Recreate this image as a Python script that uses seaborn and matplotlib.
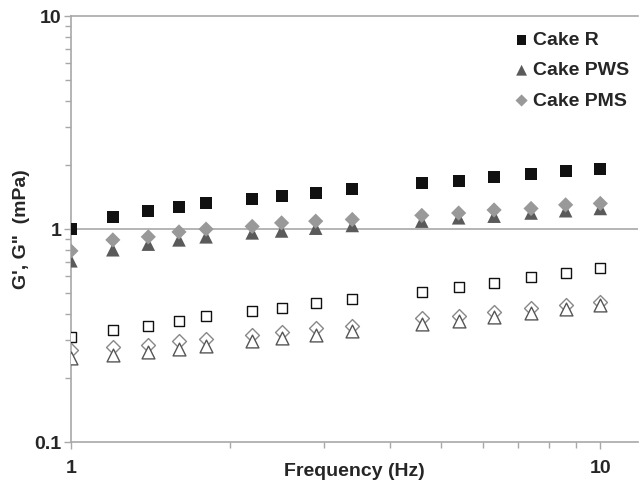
import numpy as np
import pandas as pd
import matplotlib
matplotlib.use("Agg")
import matplotlib.pyplot as plt
import seaborn as sns
from matplotlib.ticker import LogLocator, FixedLocator, NullFormatter

# frequency sweep (Hz)
freq = [1.0, 1.2, 1.4, 1.6, 1.8, 2.2, 2.5, 2.9, 3.4, 4.6, 5.4, 6.3, 7.4, 8.6, 10.0]

# storage modulus G' (filled markers)
g1_cake_r = [1.00, 1.14, 1.22, 1.27, 1.32, 1.38, 1.43, 1.48, 1.54, 1.64, 1.69, 1.75, 1.82, 1.87, 1.92]
g1_cake_pws = [0.71, 0.80, 0.85, 0.89, 0.92, 0.96, 0.98, 1.01, 1.04, 1.09, 1.13, 1.15, 1.19, 1.22, 1.25]
g1_cake_pms = [0.79, 0.89, 0.92, 0.97, 1.00, 1.03, 1.07, 1.09, 1.11, 1.16, 1.19, 1.23, 1.25, 1.30, 1.32]

# loss modulus G'' (open markers)
g2_cake_r = [0.311, 0.336, 0.351, 0.369, 0.389, 0.414, 0.426, 0.448, 0.469, 0.509, 0.536, 0.561, 0.596, 0.624, 0.654]
g2_cake_pws = [0.249, 0.256, 0.266, 0.273, 0.283, 0.299, 0.307, 0.319, 0.332, 0.358, 0.371, 0.387, 0.405, 0.423, 0.440]
g2_cake_pms = [0.272, 0.281, 0.287, 0.299, 0.306, 0.320, 0.330, 0.342, 0.351, 0.381, 0.391, 0.409, 0.424, 0.440, 0.456]

labels = ["Cake R", "Cake PWS", "Cake PMS"]

sns.set_style("white")
plt.rcParams['font.family'] = ['Liberation Sans', 'DejaVu Sans']
plt.rcParams['font.weight'] = 'bold'

fig = plt.figure(figsize=(6.39, 4.88), dpi=100)
ax = fig.add_axes([0.111, 0.094, 0.888, 0.873])

gray = '#a8a8a8'
fs = 14

# G' series
sns.scatterplot(x=freq, y=g1_cake_r, marker='s', s=75, color='#111111',
                edgecolor='none', label=labels[0], ax=ax, zorder=3)
sns.scatterplot(x=freq, y=g1_cake_pws, marker='^', s=95, color='#5a5a5a',
                edgecolor='none', label=labels[1], ax=ax, zorder=3)
sns.scatterplot(x=freq, y=g1_cake_pms, marker='D', s=60, color='#999999',
                edgecolor='none', label=labels[2], ax=ax, zorder=4)

# G'' series (open)
sns.scatterplot(x=freq, y=g2_cake_r, marker='s', s=55, color='white',
                edgecolor='#111111', linewidth=1.0, ax=ax, zorder=3)
sns.scatterplot(x=freq, y=g2_cake_pws, marker='^', s=85, color='white',
                edgecolor='#555555', linewidth=1.0, ax=ax, zorder=3)
sns.scatterplot(x=freq, y=g2_cake_pms, marker='D', s=50, color='white',
                edgecolor='#888888', linewidth=1.0, ax=ax, zorder=2)

ax.set_xscale('log')
ax.set_yscale('log')
ax.set_xlim(1, 11.8)
ax.set_ylim(0.1, 10)

ax.xaxis.set_major_locator(FixedLocator([1, 10]))
ax.xaxis.set_minor_locator(LogLocator(base=10, subs=np.arange(2, 10)))
ax.xaxis.set_minor_formatter(NullFormatter())
ax.set_xticklabels(['1', '10'])
ax.yaxis.set_major_locator(FixedLocator([0.1, 1, 10]))
ax.yaxis.set_minor_locator(LogLocator(base=10, subs=np.arange(2, 10)))
ax.yaxis.set_minor_formatter(NullFormatter())
ax.set_yticklabels(['0.1', '1', '10'])

ax.axhline(1, color=gray, linewidth=1.2, zorder=1)

for side in ['left', 'bottom', 'top']:
    ax.spines[side].set_color(gray)
    ax.spines[side].set_linewidth(1.2)
ax.spines['right'].set_visible(False)

ax.tick_params(axis='both', which='both', direction='out', color=gray,
               width=1.0, labelsize=fs, bottom=True, left=True,
               top=False, right=False)
ax.tick_params(axis='both', which='major', length=5)
ax.tick_params(axis='both', which='minor', length=4)
ax.tick_params(axis='x', which='both', pad=8)
ax.tick_params(axis='y', which='both', pad=2)

ax.set_xlabel('Frequency (Hz)', fontsize=fs, fontweight='bold', labelpad=-10)
ax.set_ylabel('G\', G"  (mPa)', fontsize=fs, fontweight='bold', labelpad=3)

handles = ax.collections[:3]
leg = ax.legend(handles=handles, labels=labels, loc='upper right',
                bbox_to_anchor=(1.015, 1.005), frameon=False,
                handletextpad=0.1, handlelength=1.0, labelspacing=0.65,
                markerscale=0.8, prop={'weight': 'bold', 'size': fs})

fig.savefig('out.png', dpi=100)
